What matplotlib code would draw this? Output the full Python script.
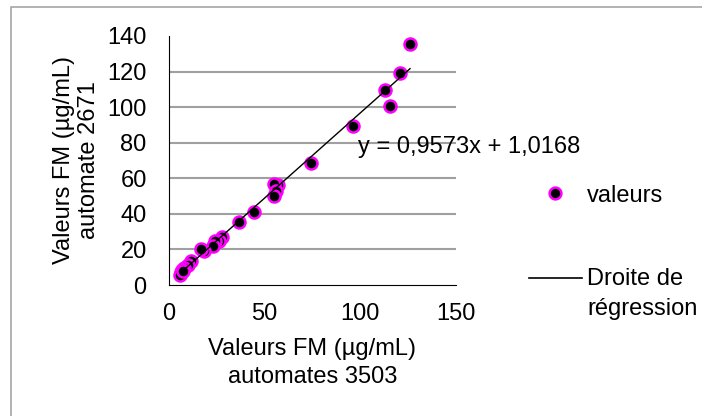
import numpy as np
import matplotlib.pyplot as plt
from matplotlib.lines import Line2D
from matplotlib.patches import Rectangle
from matplotlib.legend_handler import HandlerLine2D

plt.rcParams['font.family'] = ['Liberation Sans', 'DejaVu Sans']

# values
x_3503 = [126, 121, 113, 115.7, 96.2, 74, 56.8, 55, 56, 55, 44.6, 36.4, 27.5,
          26, 24, 22.8, 18.5, 17, 11.7, 9.9, 8, 6.8, 6.1, 5.9, 7.5]
y_2671 = [135.5, 119, 109.4, 100.4, 89.2, 68.7, 56, 56.6, 52.8, 50, 41.1, 35.5, 27.2,
          25, 25, 21.7, 19.2, 20.4, 13.6, 11.3, 9.4, 8.5, 7.2, 5.7, 8]
slope, intercept = 0.9573, 1.0168


class TopLineHandler(HandlerLine2D):
    # put the line sample next to the first line of a two-line label
    def create_artists(self, legend, orig_handle, xdescent, ydescent, width,
                       height, fontsize, trans):
        return super().create_artists(legend, orig_handle, xdescent,
                                      ydescent - 1.4 * fontsize, width, height,
                                      fontsize, trans)


fig = plt.figure(figsize=(7.02, 4.16), dpi=100)
ax = fig.add_axes([0.2407, 0.3149, 0.4088, 0.5986])

# outer frame like the source document
fig.patches.append(Rectangle((11 / 702, -0.1), 1.2, 1 - 7 / 416 + 0.1,
                             transform=fig.transFigure, fill=False,
                             edgecolor='#a6a6a6', linewidth=1.2))

ax.scatter(x_3503, y_2671, s=75, facecolor='black', edgecolor='#ff00ff',
           linewidth=1.8, zorder=3)

xl = np.array([min(x_3503), max(x_3503)])
ax.plot(xl, slope * xl + intercept, color='black', linewidth=1, zorder=4)

ax.text(98.8, 77.5, 'y = 0,9573x + 1,0168', fontsize=17, ha='left', va='center')

ax.set_xlim(0, 150)
ax.set_ylim(0, 140)
ax.set_xticks([0, 50, 100, 150])
ax.set_yticks(range(0, 141, 20))
ax.tick_params(length=0, labelsize=17)
ax.tick_params(axis='y', pad=16)
ax.tick_params(axis='x', pad=13)

ax.yaxis.grid(True, color='#a0a0a0', linewidth=1.5)
ax.set_axisbelow(True)
gl = ax.get_ygridlines()
gl[0].set_visible(False)
gl[-1].set_visible(False)

for s in ['top', 'right']:
    ax.spines[s].set_visible(False)

ax.set_xlabel('Valeurs FM (µg/mL)\nautomates 3503', fontsize=17, labelpad=9,
              linespacing=1.4)
ax.set_ylabel('Valeurs FM (µg/mL)\nautomate 2671', fontsize=17, labelpad=5,
              linespacing=1.2)

line_handle = Line2D([], [], color='black', linewidth=1.2)
handles = [Line2D([], [], linestyle='none', marker='o', markersize=8.5,
                  markerfacecolor='black', markeredgecolor='#ff00ff',
                  markeredgewidth=1.8),
           line_handle]
leg = ax.legend(handles, ['valeurs', 'Droite de\nrégression'], fontsize=17,
                frameon=False, loc='center left', bbox_to_anchor=(1.221, 0.132),
                handlelength=2.25, handletextpad=0.21, labelspacing=2.6,
                borderaxespad=0, handler_map={line_handle: TopLineHandler()})
for t in leg.get_texts():
    t.set_linespacing(1.45)

fig.savefig('out.png', dpi=100)
